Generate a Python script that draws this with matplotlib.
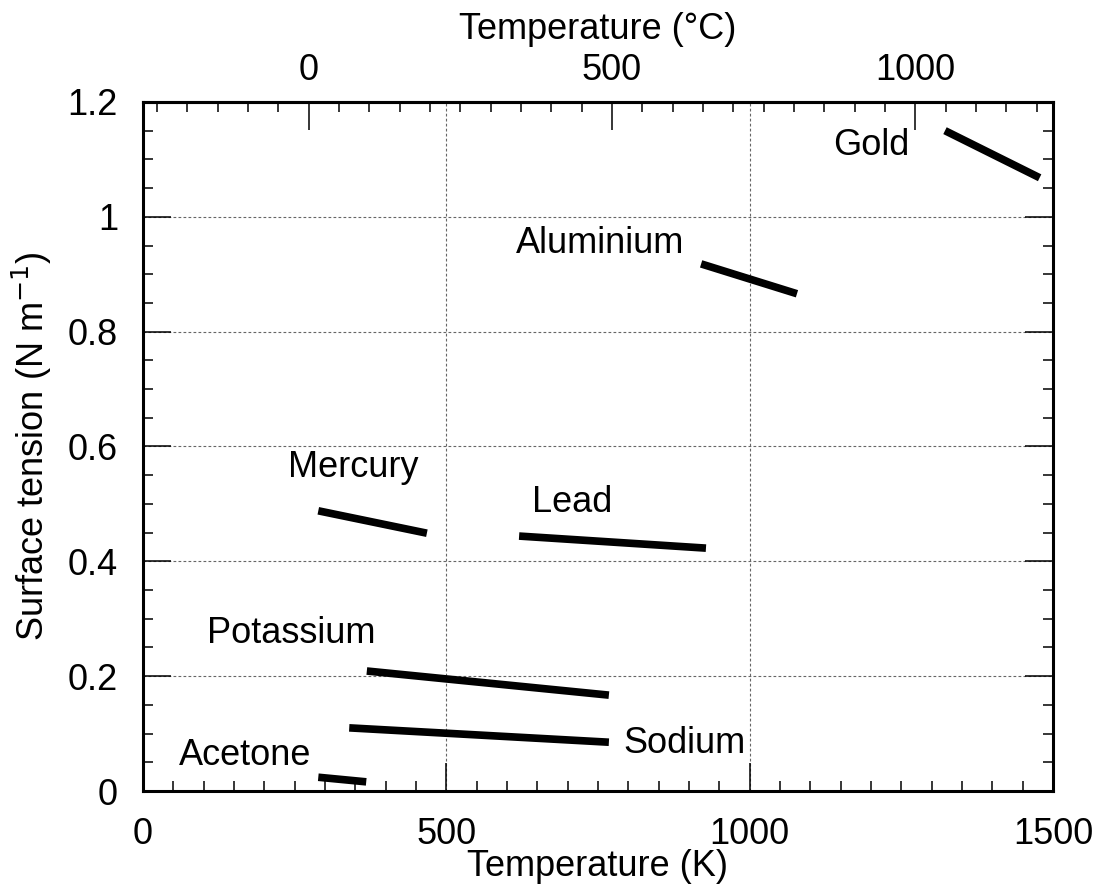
import matplotlib
matplotlib.use("Agg")
import matplotlib.pyplot as plt
from matplotlib.ticker import MultipleLocator, FixedLocator

plt.rcParams['font.family'] = ['Liberation Sans', 'DejaVu Sans']

# Surface tension of liquids vs temperature (start/end of each measured range)
substances = ["Gold", "Aluminium", "Mercury", "Lead", "Potassium", "Sodium", "Acetone"]
temp_start = [1322, 920, 289, 620, 369, 340, 289]
temp_end = [1478, 1078, 468, 928, 768, 768, 368]
tension_start = [1.150, 0.918, 0.488, 0.444, 0.209, 0.110, 0.024]
tension_end = [1.068, 0.866, 0.449, 0.423, 0.167, 0.085, 0.016]

# Label anchor points (K, N/m)
label_x = [1200, 753, 346, 708, 244, 893, 168]
label_y = [1.125, 0.953, 0.563, 0.502, 0.275, 0.082, 0.061]

# Celsius ticks on the top axis
celsius_major = [0, 500, 1000]
celsius_minor = list(range(-250, 1250, 50))

FS = 26

fig = plt.figure(figsize=(10.98, 8.92), dpi=100)
ax = fig.add_axes([0.1302, 0.1132, 0.8288, 0.7725])

for name, t0, t1, s0, s1, lx, ly in zip(substances, temp_start, temp_end,
                                         tension_start, tension_end, label_x, label_y):
    ax.plot([t0, t1], [s0, s1], color='black', lw=5.5, solid_capstyle='butt', zorder=3)
    ax.text(lx, ly, name, fontsize=FS, ha='center', va='center')

ax.set_xlim(0, 1500)
ax.set_ylim(0, 1.2)
ax.xaxis.set_major_locator(MultipleLocator(500))
ax.xaxis.set_minor_locator(MultipleLocator(50))
ax.yaxis.set_minor_locator(MultipleLocator(0.05))
ax.set_yticks([0, 0.2, 0.4, 0.6, 0.8, 1.0, 1.2])
ax.set_yticklabels(["0", "0.2", "0.4", "0.6", "0.8", "1", "1.2"])

ax.tick_params(which='both', direction='in', labelsize=FS, width=1.1,
               right=True, top=False)
ax.tick_params(which='major', length=20)
ax.tick_params(which='minor', length=7.5)
ax.tick_params(axis='y', which='major', pad=18)
ax.tick_params(axis='x', which='major', pad=19)
for sp in ax.spines.values():
    sp.set_linewidth(2.2)

ax.grid(True, which='major', color='#666666', linestyle=(0, (2.5, 2)), linewidth=0.8)

ax.set_xlabel("Temperature (K)", fontsize=FS, va='center')
ax.xaxis.set_label_coords(0.5, -0.11)
ax.set_ylabel("Surface tension (N m$^{-1}$)", fontsize=FS, va='center', ha='center')
ax.yaxis.set_label_coords(-0.122, 0.5)

sec = ax.secondary_xaxis('top', functions=(lambda k: k - 273.15, lambda c: c + 273.15))
sec.xaxis.set_major_locator(FixedLocator(celsius_major))
sec.xaxis.set_minor_locator(FixedLocator(celsius_minor))
sec.set_xticklabels([str(c) for c in celsius_major])
sec.tick_params(which='both', direction='in', labelsize=FS, width=1.1)
sec.tick_params(which='major', length=20, pad=10)
sec.tick_params(which='minor', length=7.5)
sec.spines['top'].set_linewidth(2.2)
sec.set_xlabel("Temperature (°C)", fontsize=FS, va='center')
sec.xaxis.set_label_coords(0.5, 1.1045, transform=ax.transAxes)

fig.savefig("out.png", dpi=100)
